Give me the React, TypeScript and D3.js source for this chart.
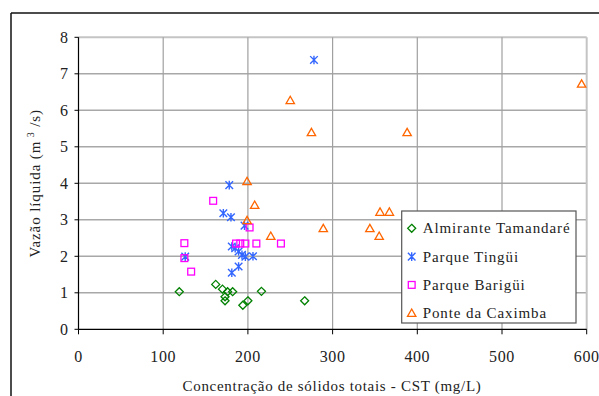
import React from "react";
import * as d3 from "d3";

const almiranteX = [119, 162, 170, 176, 182, 173, 173, 194, 200, 216, 267];
const almiranteY = [1.03, 1.23, 1.1, 1.03, 1.03, 0.89, 0.78, 0.66, 0.78, 1.04, 0.78];

const tinguiX = [126, 171, 178, 180, 181, 181, 185, 189, 189, 193, 196, 197, 206, 278];
const tinguiY = [1.99, 3.18, 3.95, 3.07, 1.55, 2.27, 2.22, 2.13, 1.72, 2.04, 2.84, 1.99, 2.0, 7.38];

const bariguiX = [125, 125, 133, 159, 186, 191, 197, 202, 210, 239];
const bariguiY = [2.36, 1.95, 1.58, 3.52, 2.35, 2.35, 2.35, 2.79, 2.35, 2.35];

const caximbaX = [199, 208, 199, 227, 250, 275, 289, 344, 355, 356, 367, 388, 594];
const caximbaY = [4.05, 3.4, 2.98, 2.55, 6.27, 5.39, 2.76, 2.76, 2.55, 3.21, 3.21, 5.39, 6.72];

const xTicks = [0, 100, 200, 300, 400, 500, 600];
const yTicks = [0, 1, 2, 3, 4, 5, 6, 7, 8];

const seriesNames = ["Almirante Tamandaré", "Parque Tingüi", "Parque Barigüi", "Ponte da Caximba"];
const seriesColors = ["#008000", "#3366ff", "#ff00ff", "#ff6600"];
const seriesShapes = ["diamond", "star", "square", "triangle"];

const FONT = '"Liberation Serif"';
const TEXT = "#222";

function Marker({ shape, x, y, color }: { shape: string; x: number; y: number; color: string }) {
  const sw = 1.3;
  if (shape === "diamond") {
    const r = 4;
    return <path d={`M${x},${y - r}L${x + r},${y}L${x},${y + r}L${x - r},${y}Z`} fill="none" stroke={color} strokeWidth={sw} />;
  }
  if (shape === "square") {
    const r = 3.4;
    return <rect x={x - r} y={y - r} width={2 * r} height={2 * r} fill="none" stroke={color} strokeWidth={sw} />;
  }
  if (shape === "triangle") {
    const r = 4.2;
    return <path d={`M${x},${y - r}L${x + r},${y + r * 0.75}L${x - r},${y + r * 0.75}Z`} fill="none" stroke={color} strokeWidth={sw} />;
  }
  const r = 3.8;
  return (
    <path
      d={`M${x - r},${y - r}L${x + r},${y + r}M${x - r},${y + r}L${x + r},${y - r}M${x},${y - r - 0.5}L${x},${y + r + 0.5}`}
      fill="none"
      stroke={color}
      strokeWidth={1.4}
    />
  );
}

function T(props: any) {
  const { size = 15, children, style, ...rest } = props;
  return (
    <text {...rest} fill={TEXT} style={{ fontFamily: FONT, fontSize: size, ...(style || {}) }}>
      {children}
    </text>
  );
}

export default function App() {
  const W = 599;
  const H = 396;
  const x = d3.scaleLinear().domain([0, 600]).range([78.5, 586.7]);
  const y = d3.scaleLinear().domain([0, 8]).range([329.3, 37.3]);

  const series = [
    { xs: almiranteX, ys: almiranteY },
    { xs: tinguiX, ys: tinguiY },
    { xs: bariguiX, ys: bariguiY },
    { xs: caximbaX, ys: caximbaY },
  ];

  const x0 = x(0), x1 = x(600), y0 = y(0), y1 = y(8);

  return (
    <svg width={W} height={H} style={{ display: "block", position: "absolute", left: 0, top: 0, background: "#fff", fontFamily: FONT }}>
      {/* frame */}
      <line x1={11} y1={13} x2={W} y2={13} stroke="#111" strokeWidth={1.5} />
      <line x1={11} y1={13} x2={11} y2={H} stroke="#111" strokeWidth={1.5} />

      {/* grid */}
      {yTicks.slice(1).map((t) => (
        <line key={"gy" + t} x1={x0} x2={x1} y1={y(t)} y2={y(t)} stroke={t === 8 ? "#c4c4c4" : "#a8a8a8"} strokeWidth={t === 8 ? 2 : 1.5} />
      ))}
      {xTicks.slice(1).map((t) => (
        <line key={"gx" + t} x1={x(t)} x2={x(t)} y1={y0} y2={y1} stroke={t === 600 ? "#c4c4c4" : "#a0a0a0"} strokeWidth={t === 600 ? 2 : 1.2} />
      ))}

      {/* axes */}
      <line x1={x0} x2={x0} y1={y1} y2={y0} stroke="#000" strokeWidth={1.2} />
      <line x1={x0} x2={x1} y1={y0} y2={y0} stroke="#000" strokeWidth={1.2} />
      {yTicks.map((t) => (
        <line key={"ty" + t} x1={x0 - 4} x2={x0} y1={y(t)} y2={y(t)} stroke="#000" strokeWidth={1} />
      ))}
      {xTicks.map((t) => (
        <line key={"tx" + t} x1={x(t)} x2={x(t)} y1={y0} y2={y0 + 5} stroke="#000" strokeWidth={1} />
      ))}

      {/* tick labels */}
      {yTicks.map((t) => (
        <T key={"ly" + t} x={68} y={y(t) + 5.5} textAnchor="end" size={16}>
          {t}
        </T>
      ))}
      {xTicks.map((t) => (
        <T key={"lx" + t} x={x(t)} y={362} textAnchor="middle" size={16} letterSpacing={0.6}>
          {t}
        </T>
      ))}

      {/* axis titles */}
      <T x={332} y={391} textAnchor="middle" letterSpacing={0.7}>
        Concentração de sólidos totais - CST (mg/L)
      </T>
      <T transform={`translate(40,${(y0 + y1) / 2}) rotate(-90)`} textAnchor="middle" letterSpacing={0.9}>
        Vazão líquida (m
        <tspan dy={-6} style={{ fontSize: 10 }}> 3</tspan>
        <tspan dy={6}> /s)</tspan>
      </T>

      {/* points */}
      {series.map((s, i) =>
        s.xs.map((v, j) => (
          <Marker key={i + "-" + j} shape={seriesShapes[i]} x={x(v)} y={y(s.ys[j])} color={seriesColors[i]} />
        ))
      )}

      {/* legend */}
      <rect x={401.7} y={211} width={174.3} height={112} fill="#fff" stroke="#555" strokeWidth={1.2} />
      {seriesNames.map((n, i) => {
        const ly = 228.3 + i * 28.3;
        return (
          <g key={n}>
            <Marker shape={seriesShapes[i]} x={411.7} y={ly} color={seriesColors[i]} />
            <T x={422.7} y={ly + 5} letterSpacing={0.9}>
              {n}
            </T>
          </g>
        );
      })}
    </svg>
  );
}
